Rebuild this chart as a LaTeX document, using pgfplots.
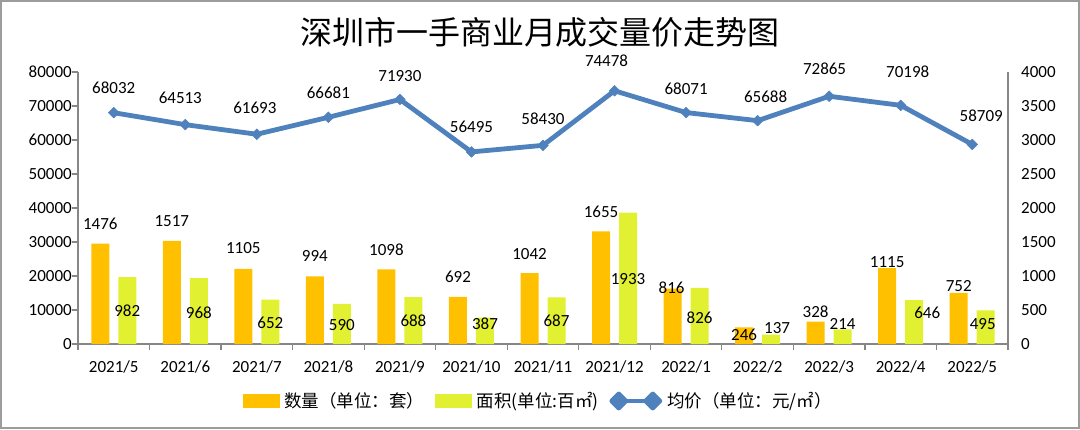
\documentclass[border=0pt]{standalone}
\usepackage{pgfplots}
\pgfplotsset{compat=1.18}
\usepackage{pgfplotstable}
\usepackage{fontspec}
\setmainfont{Carlito}
\newfontfamily\cjk{Noto Sans CJK SC}
\definecolor{cOrange}{HTML}{FFC000}
\definecolor{cYellow}{HTML}{E2F032}
\definecolor{cBlue}{HTML}{4F81BD}
\definecolor{cAxis}{HTML}{868686}
\definecolor{cFrame}{HTML}{9C9C9C}

\pgfplotstableread{
x n a p ndx ndy adx ady pdx pdy
0 1476 982 68032 0 14 0 -0.5 0 19
1 1517 968 64513 0 14.7 0 -1.5 -5 21.6
2 1105 652 61693 0 15 0 -1 -2 20.7
3 994 590 66681 0 15 0 -1 0 18.4
4 1098 688 71930 0 14 0 0 0 18.3
5 692 387 56495 0 14 0 7 0 19
6 1042 687 58430 0 14 0 0 0 21
7 1655 1933 74478 0 14 0 -1 -8 24.7
8 816 826 68071 -1 -5 0 -2 0 18.4
9 246 137 65688 0 -13 6 11 8 18.3
10 328 214 72865 0 4 0 13 -4.6 21.7
11 1115 646 70198 0 1 13 9.5 7 28
12 752 495 58709 0 1 -3 3 9 23
}\datatable

\newcommand{\numfont}{\fontsize{17}{20}\selectfont}

\begin{document}
\begin{tikzpicture}
\path[use as bounding box] (-78pt,-85pt) rectangle (1002pt,344pt);
% bars: right axis
\begin{axis}[
  scale only axis, width=930pt, height=272pt,
  xmin=-0.5, xmax=12.5, ymin=0, ymax=4000,
  axis y line*=right, axis x line*=bottom,
  axis line style={cAxis, line width=1.2pt, -},
  ytick={0,500,...,4000},
  scaled y ticks=false,
  /pgf/number format/fixed,
  /pgf/number format/1000 sep={},
  xtick={0,...,12},
  xticklabels={2021/5,2021/6,2021/7,2021/8,2021/9,2021/10,2021/11,2021/12,2022/1,2022/2,2022/3,2022/4,2022/5},
  minor xtick={-0.5,0.5,...,12.5},
  major tick length=0pt, minor tick length=6pt, tick align=outside,
  tick style={cAxis, line width=1.2pt},
  tick label style={font=\numfont, text=black},
  /pgf/number format/assume math mode=true,
  yticklabel style={anchor=west, inner sep=0pt, xshift=13pt},
  xticklabel style={anchor=north, inner sep=0pt, yshift=-16pt},
  clip=false,
]
\addplot[ybar, bar width=18pt, bar shift=-13.5pt, fill=cOrange, draw=none] table[x=x, y=n] {\datatable};
\addplot[ybar, bar width=18pt, bar shift=13.5pt, fill=cYellow, draw=none] table[x=x, y=a] {\datatable};
% labels of orange bars
\addplot[draw=none, mark=none, nodes near coords, point meta=explicit symbolic,
  visualization depends on={\thisrow{ndx} \as \ndx},
  visualization depends on={\thisrow{ndy} \as \ndy},
  nodes near coords style={font=\numfont, text=black, anchor=base, inner sep=0pt, xshift={\ndx*1pt}, yshift={\ndy*1pt}}]
  table[x expr=\thisrow{x}-0.18871, y=n, meta=n] {\datatable};
% labels of yellow bars (centred in the bar)
\addplot[draw=none, mark=none, nodes near coords, point meta=explicit symbolic,
  visualization depends on={\thisrow{adx} \as \adx},
  visualization depends on={\thisrow{ady} \as \ady},
  nodes near coords style={font=\numfont, text=black, anchor=center, inner sep=0pt, xshift={\adx*1pt}, yshift={\ady*1pt}}]
  table[x expr=\thisrow{x}+0.18871, y expr=\thisrow{a}/2, meta=a] {\datatable};
\end{axis}
% line: left axis
\begin{axis}[
  scale only axis, width=930pt, height=272pt,
  xmin=-0.5, xmax=12.5, ymin=0, ymax=80000,
  axis y line*=left, hide x axis,
  axis line style={cAxis, line width=1.2pt, -},
  ytick={0,10000,...,80000},
  scaled y ticks=false,
  /pgf/number format/fixed,
  /pgf/number format/1000 sep={},
  major tick length=6pt, tick align=outside,
  tick style={cAxis, line width=1.2pt},
  tick label style={font=\numfont, text=black},
  /pgf/number format/assume math mode=true,
  yticklabel style={anchor=east, inner sep=0pt},
  clip=false,
  legend columns=3,
  legend style={at={(0.4965,0)}, yshift=-57pt, anchor=center, draw=none, fill=none,
    font=\cjk\fontsize{17.5}{19}\selectfont, inner sep=0pt,
    /tikz/every even column/.append style={column sep=6pt},
    nodes={inner xsep=5pt, inner ysep=0pt}},
]
\addlegendimage{legend image code/.code={\fill[cOrange] (0pt,-6.5pt) rectangle (36pt,6.5pt);}}
\addlegendentry{数量（单位：套）}
\addlegendimage{legend image code/.code={\fill[cYellow] (0pt,-6.5pt) rectangle (36pt,6.5pt);}}
\addlegendentry{面积(单位:百㎡)}
\addplot[cBlue, line width=4.8pt, line join=round, mark=square*, mark size=3.8pt,
  mark options={rotate=45, solid, line width=0.5pt},
  legend image code/.code={
    \draw[cBlue, line width=4.8pt] (7pt,0pt) -- (41pt,0pt);
    \fill[cBlue] (7pt,7pt) -- (14pt,0pt) -- (7pt,-7pt) -- (0pt,0pt) -- cycle;
    \fill[cBlue] (41pt,7pt) -- (48pt,0pt) -- (41pt,-7pt) -- (34pt,0pt) -- cycle;}]
  table[x=x, y=p] {\datatable};
\addlegendentry{均价（单位：元/㎡）}
\addplot[draw=none, mark=none, nodes near coords, point meta=explicit symbolic,
  visualization depends on={\thisrow{pdx} \as \pdx},
  visualization depends on={\thisrow{pdy} \as \pdy},
  nodes near coords style={font=\numfont, text=black, anchor=base, inner sep=0pt, xshift={\pdx*1pt}, yshift={\pdy*1pt}}]
  table[x=x, y=p, meta=p] {\datatable};
\end{axis}
\node[font=\cjk\fontsize{32}{36}\selectfont, inner sep=0pt] at (462pt,312pt) {深圳市一手商业月成交量价走势图};
\draw[cFrame, line width=2pt] (-77pt,-84pt) rectangle (1001pt,343pt);
\end{tikzpicture}
\end{document}
